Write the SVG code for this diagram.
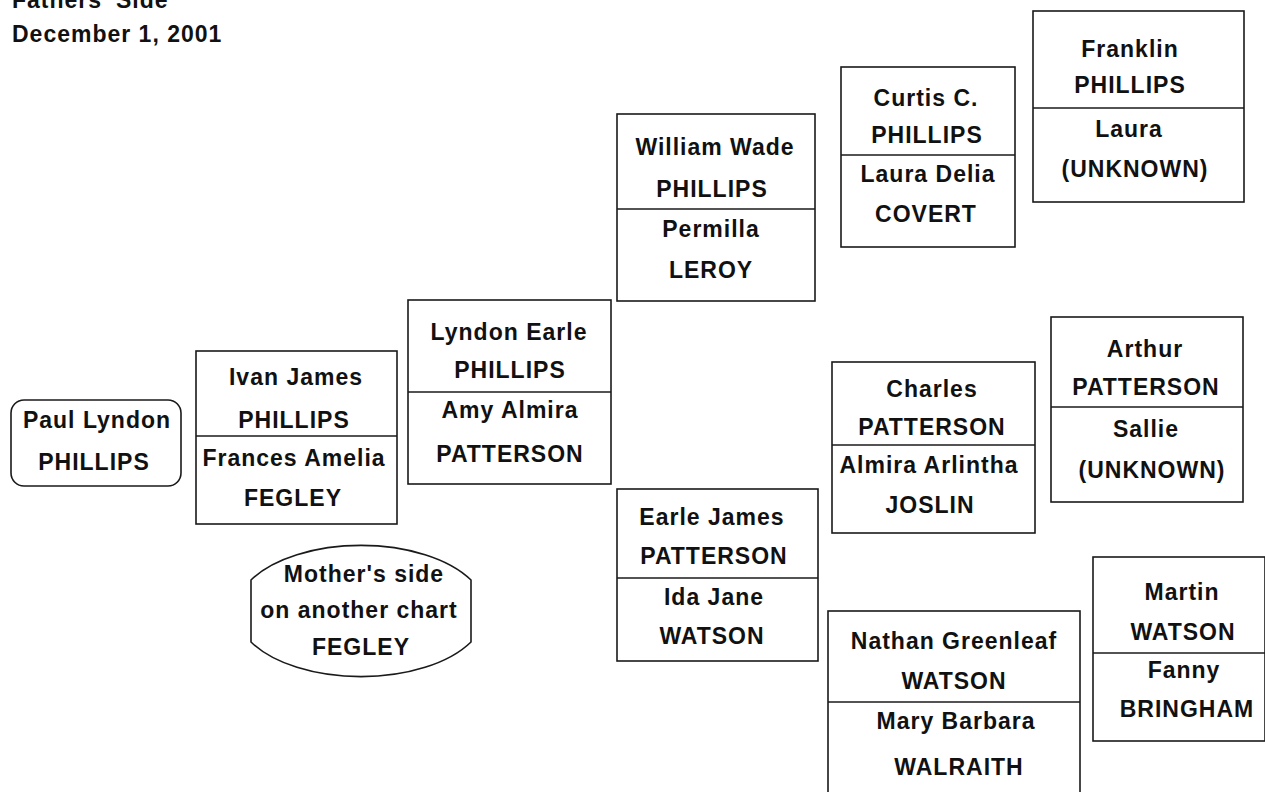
<svg xmlns="http://www.w3.org/2000/svg" width="1265" height="792" viewBox="0 0 1265 792">
<style>
.bx{fill:none;stroke:#1a1a1a;stroke-width:1.6}
.ln{stroke:#1a1a1a;stroke-width:1.6}
text{font-family:"Liberation Sans",Arial,sans-serif;font-weight:bold;font-size:23px;letter-spacing:1px;fill:#111;text-anchor:middle}
.t{text-anchor:start}
</style>
<rect width="1265" height="792" fill="#ffffff"/>
<g id="title">
<text class="t" x="12" y="8">Fathers' Side</text>
<text class="t" x="12" y="42">December 1, 2001</text>
</g>
<g id="connectors"></g>
<g id="paul">
<rect class="bx" x="11" y="400" width="170" height="86" rx="13"/>
<text x="97" y="428">Paul Lyndon</text>
<text x="94" y="470">PHILLIPS</text>
</g>
<g id="ivan">
<rect class="bx" x="196" y="351" width="201" height="173"/>
<line class="ln" x1="196" y1="436" x2="397" y2="436"/>
<text x="296" y="385">Ivan James</text>
<text x="294" y="428">PHILLIPS</text>
<text x="294" y="466">Frances Amelia</text>
<text x="293" y="506">FEGLEY</text>
</g>
<g id="mother">
<path class="bx" d="M251,580 A125,66 0 0 1 471,580 L471,642 A125,66 0 0 1 251,642 Z"/>
<text x="364" y="582">Mother's side</text>
<text x="359" y="618">on another chart</text>
<text x="361" y="655">FEGLEY</text>
</g>
<g id="lyndon">
<rect class="bx" x="408" y="300" width="203" height="184"/>
<line class="ln" x1="408" y1="392" x2="611" y2="392"/>
<text x="509" y="340">Lyndon Earle</text>
<text x="510" y="378">PHILLIPS</text>
<text x="510" y="418">Amy Almira</text>
<text x="510" y="462">PATTERSON</text>
</g>
<g id="william">
<rect class="bx" x="617" y="114" width="198" height="187"/>
<line class="ln" x1="617" y1="209" x2="815" y2="209"/>
<text x="715" y="155">William Wade</text>
<text x="712" y="197">PHILLIPS</text>
<text x="711" y="237">Permilla</text>
<text x="711" y="278">LEROY</text>
</g>
<g id="earle">
<rect class="bx" x="617" y="489" width="201" height="172"/>
<line class="ln" x1="617" y1="578" x2="818" y2="578"/>
<text x="712" y="525">Earle James</text>
<text x="714" y="564">PATTERSON</text>
<text x="714" y="605">Ida Jane</text>
<text x="712" y="644">WATSON</text>
</g>
<g id="curtis">
<rect class="bx" x="841" y="67" width="174" height="180"/>
<line class="ln" x1="841" y1="155" x2="1015" y2="155"/>
<text x="926" y="106">Curtis C.</text>
<text x="927" y="143">PHILLIPS</text>
<text x="928" y="182">Laura Delia</text>
<text x="926" y="222">COVERT</text>
</g>
<g id="franklin">
<rect class="bx" x="1033" y="11" width="211" height="191"/>
<line class="ln" x1="1033" y1="108" x2="1244" y2="108"/>
<text x="1130" y="57">Franklin</text>
<text x="1130" y="93">PHILLIPS</text>
<text x="1129" y="137">Laura</text>
<text x="1135" y="177">(UNKNOWN)</text>
</g>
<g id="charles">
<rect class="bx" x="832" y="362" width="203" height="171"/>
<line class="ln" x1="832" y1="445" x2="1035" y2="445"/>
<text x="932" y="397">Charles</text>
<text x="932" y="435">PATTERSON</text>
<text x="929" y="473">Almira Arlintha</text>
<text x="930" y="513">JOSLIN</text>
</g>
<g id="arthur">
<rect class="bx" x="1051" y="317" width="192" height="185"/>
<line class="ln" x1="1051" y1="407" x2="1243" y2="407"/>
<text x="1145" y="357">Arthur</text>
<text x="1146" y="395">PATTERSON</text>
<text x="1146" y="437">Sallie</text>
<text x="1152" y="478">(UNKNOWN)</text>
</g>
<g id="nathan">
<rect class="bx" x="828" y="611" width="252" height="190"/>
<line class="ln" x1="828" y1="702" x2="1080" y2="702"/>
<text x="954" y="649">Nathan Greenleaf</text>
<text x="954" y="689">WATSON</text>
<text x="956" y="729">Mary Barbara</text>
<text x="959" y="775">WALRAITH</text>
</g>
<g id="martin">
<rect class="bx" x="1093" y="557" width="172" height="184"/>
<line class="ln" x1="1093" y1="653" x2="1265" y2="653"/>
<text x="1182" y="600">Martin</text>
<text x="1183" y="640">WATSON</text>
<text x="1184" y="678">Fanny</text>
<text x="1187" y="717">BRINGHAM</text>
</g>
</svg>
